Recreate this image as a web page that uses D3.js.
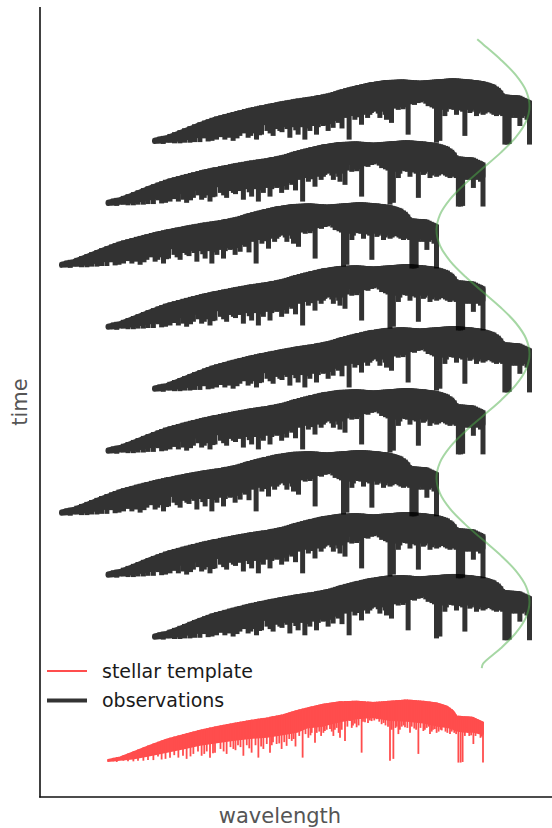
<!DOCTYPE html>
<html>
<head>
<meta charset="utf-8">
<script src="https://cdn.jsdelivr.net/npm/d3@7"></script>
<style>
  body { margin: 0; background: #fff; }
  svg { display: block; }
</style>
</head>
<body>
<svg id="chart" width="552" height="828"></svg>
<script>
// Stellar template: continuum and the top of the dense weak-line forest (knots, Å / relative flux)
const contWave  = [4000, 4096, 4200, 4336, 4472, 4600, 4736, 4872, 5000, 5136, 5272, 5400, 5512, 5592, 5720,
                   5856, 5992, 6120, 6256, 6392, 6520, 6632, 6712, 6760, 6790, 6850, 6920, 6990, 7000];
const contFlux  = [0.05, 0.09, 0.17, 0.28, 0.38, 0.45, 0.52, 0.58, 0.63, 0.68, 0.72, 0.77, 0.84, 0.88, 0.94,
                   0.98, 0.99, 0.97, 0.99, 1.01, 0.99, 0.96, 0.91, 0.84, 0.75, 0.74, 0.73, 0.66, 0.65];
const floorFlux = [0.03, 0.05, 0.07, 0.12, 0.18, 0.23, 0.29, 0.33, 0.37, 0.40, 0.42, 0.46, 0.50, 0.57, 0.60,
                   0.67, 0.72, 0.74, 0.69, 0.68, 0.65, 0.60, 0.58, 0.55, 0.52, 0.50, 0.50, 0.47, 0.47];

// Strong absorption lines: centre wavelength (Å) and flux at the line core
const lineWave = [4043, 4123, 4203, 4283, 4363, 4400, 4429, 4496, 4530, 4563, 4600, 4629, 4683, 4720, 4749,
                  4790, 4816, 4856, 4900, 4949, 4980, 5003, 5040, 5083, 5110, 5149, 5180, 5203, 5243, 5270,
                  5296, 5320, 5349, 5389, 5429, 5450, 5470, 5500, 5530, 5557, 5603, 5630, 5656, 5690, 5723,
                  5750, 5776, 5803, 5830, 5856, 5896, 5936, 5960, 5989, 6029, 6056, 6080, 6109, 6149, 6189,
                  6220, 6256, 6283, 6300, 6323, 6350, 6376, 6416, 6450, 6483, 6523, 6550, 6576, 6600, 6629,
                  6660, 6683, 6700, 6736, 6770, 6803, 6821, 6837, 6869, 6890, 6923, 6957, 6980, 7000];
const lineFlux = [0.04, 0.05, 0.04, 0.05, 0.06, 0.12, 0.07, 0.10, 0.14, 0.10, 0.13, 0.08, 0.16, 0.20, 0.13,
                  0.20, 0.10, 0.18, 0.24, 0.16, 0.27, 0.24, 0.30, 0.13, 0.30, 0.18, 0.30, 0.10, 0.24, 0.32,
                  0.18, 0.35, 0.32, 0.24, 0.29, 0.40, 0.37, 0.28, 0.45, 0.10, 0.42, 0.50, 0.34, 0.52, 0.50,
                  0.55, 0.56, 0.45, 0.58, 0.42, 0.37, 0.69, 0.62, 0.59, 0.18, 0.67, 0.66, 0.69, 0.72, 0.64,
                  0.62, 0.05, 0.08, 0.58, 0.48, 0.60, 0.59, 0.50, 0.57, 0.16, 0.53, 0.58, 0.48, 0.55, 0.50,
                  0.55, 0.60, 0.52, 0.48, 0.50, 0.02, 0.02, 0.03, 0.59, 0.45, 0.32, 0.53, 0.42, 0.02];

// Weaker lines filling the forest between the strong ones
const weakWave = [4070, 4160, 4240, 4320, 4460, 4660, 4770, 4840, 4925, 5020, 5060, 5130, 5225, 5310, 5370,
                  5410, 5485, 5580, 5620, 5670, 5705, 5735, 5790, 5815, 5845, 5870, 5915, 5950, 5975, 6005,
                  6040, 6095, 6130, 6170, 6205, 6240, 6270, 6310, 6335, 6365, 6395, 6430, 6465, 6500, 6535,
                  6565, 6590, 6615, 6645, 6670, 6715, 6750, 6785, 6855, 6880, 6905, 6940, 6970, 6990];
const weakFlux = [0.03, 0.04, 0.05, 0.06, 0.08, 0.12, 0.16, 0.17, 0.20, 0.22, 0.27, 0.25, 0.28, 0.30, 0.33,
                  0.35, 0.40, 0.48, 0.46, 0.50, 0.45, 0.53, 0.52, 0.55, 0.50, 0.55, 0.60, 0.58, 0.65, 0.62,
                  0.68, 0.70, 0.70, 0.68, 0.66, 0.60, 0.55, 0.60, 0.55, 0.62, 0.58, 0.60, 0.55, 0.58, 0.55,
                  0.60, 0.52, 0.56, 0.52, 0.54, 0.50, 0.52, 0.48, 0.45, 0.50, 0.46, 0.45, 0.48, 0.44];

// Observations: epoch index and Doppler shift of each spectrum (Å)
const obsTime  = [0, 1, 2, 3, 4, 5, 6, 7, 8];
const obsShift = [372, 0, -372, 0, 372, 0, -372, 0, 372];

// Radial-velocity curve traced through the red edge of the spectra
const curveTime  = [-1.08, -1, -0.75, -0.5, -0.25, 0, 0.25, 0.5, 0.75, 1, 1.25, 1.5, 1.75, 2, 2.25, 2.5, 2.75,
                    3, 3.25, 3.5, 3.75, 4, 4.25, 4.5, 4.75, 5, 5.25, 5.5, 5.75, 6, 6.25, 6.5, 6.75,
                    7, 7.25, 7.5, 7.75, 8, 8.25, 8.5, 8.75, 9, 9.07];
const curveShift = [-46, 0, 142, 263, 344, 372, 344, 263, 142, 0, -142, -263, -344, -372, -344, -263, -142,
                    0, 142, 263, 344, 372, 344, 263, 142, 0, -142, -263, -344, -372, -344, -263, -142,
                    0, 142, 263, 344, 372, 344, 263, 142, 0, -10];

const legendLabels = ["stellar template", "observations"];
const axisLabels = { x: "wavelength", y: "time" };

const svg = d3.select("#chart");
const font = "DejaVu Sans, sans-serif";

// Scales: wavelength horizontally, stacked epochs ("slots") vertically
const x = d3.scaleLinear().domain([3456, 7552]).range([40, 552]);
const y = d3.scaleLinear().domain([-0.55, 12.2]).range([797, 7]);
const slotOf = t => 10 - t;          // epoch → vertical slot; the template sits at slot 0
const contAt = d3.scaleLinear().domain(contWave).range(contFlux).clamp(true);

const knots = contWave.map((w, i) => ({ w, c: contFlux[i], f: floorFlux[i] }));
const lines = lineWave.map((w, i) => ({ w, f: lineFlux[i] }))
  .concat(weakWave.map((w, i) => ({ w, f: weakFlux[i] })));

function drawSpectrum(g, slot, shift, colour, width) {
  const area = d3.area()
    .x(d => x(d.w + shift))
    .y0(d => y(slot + d.f))
    .y1(d => y(slot + d.c));
  g.append("path")
    .datum(knots)
    .attr("d", area)
    .attr("fill", colour)
    .attr("stroke", colour)
    .attr("stroke-width", width)
    .attr("stroke-linejoin", "round");
  g.selectAll("line.abs")
    .data(lines)
    .join("line")
    .attr("class", "abs")
    .attr("x1", d => x(d.w + shift))
    .attr("x2", d => x(d.w + shift))
    .attr("y1", d => y(slot + contAt(d.w)))
    .attr("y2", d => y(slot + d.f))
    .attr("stroke", colour)
    .attr("stroke-width", width)
    .attr("stroke-linecap", "square");
}

// Observed spectra (semi-transparent black, thick)
obsTime.forEach((t, i) => {
  const g = svg.append("g").attr("opacity", 0.8);
  drawSpectrum(g, slotOf(t), obsShift[i], "#000", 5);
});

// Stellar template at the bottom
drawSpectrum(svg.append("g"), 0, 0, "#ff4d4d", 1.8);

// Radial-velocity curve
const endWave = contWave[contWave.length - 1];
const curve = d3.line()
  .x((d, i) => x(endWave + curveShift[i]))
  .y(d => y(slotOf(d) + 0.6))
  .curve(d3.curveCatmullRom);
svg.append("path")
  .datum(curveTime)
  .attr("d", curve)
  .attr("fill", "none")
  .attr("stroke", "#4daf4a")
  .attr("stroke-opacity", 0.5)
  .attr("stroke-width", 2);

// Spines (left and bottom only)
svg.append("line").attr("x1", 40).attr("x2", 40).attr("y1", 7).attr("y2", 797.5)
  .attr("stroke", "#111").attr("stroke-width", 1.6);
svg.append("line").attr("x1", 39.2).attr("x2", 552).attr("y1", 797).attr("y2", 797)
  .attr("stroke", "#111").attr("stroke-width", 1.6);

// Axis labels
svg.append("text").attr("x", 280).attr("y", 823)
  .attr("text-anchor", "middle").attr("font-family", font).attr("font-size", 21)
  .attr("fill", "#555").text(axisLabels.x);
svg.append("text").attr("transform", "translate(27,402) rotate(-90)")
  .attr("text-anchor", "middle").attr("font-family", font).attr("font-size", 21)
  .attr("fill", "#555").text(axisLabels.y);

// Legend
const legend = svg.append("g");
const legendStyles = [
  { colour: "#ff4d4d", width: 1.8, opacity: 1 },
  { colour: "#000", width: 4, opacity: 0.8 }
];
legendLabels.forEach((label, i) => {
  const yy = 671 + i * 29.5;
  legend.append("line").attr("x1", 47).attr("x2", 87).attr("y1", yy).attr("y2", yy)
    .attr("stroke", legendStyles[i].colour).attr("stroke-width", legendStyles[i].width)
    .attr("stroke-opacity", legendStyles[i].opacity);
  legend.append("text").attr("x", 102).attr("y", yy + 6.5)
    .attr("font-family", font).attr("font-size", 19).attr("fill", "#1a1a1a").text(label);
});
</script>
</body>
</html>
